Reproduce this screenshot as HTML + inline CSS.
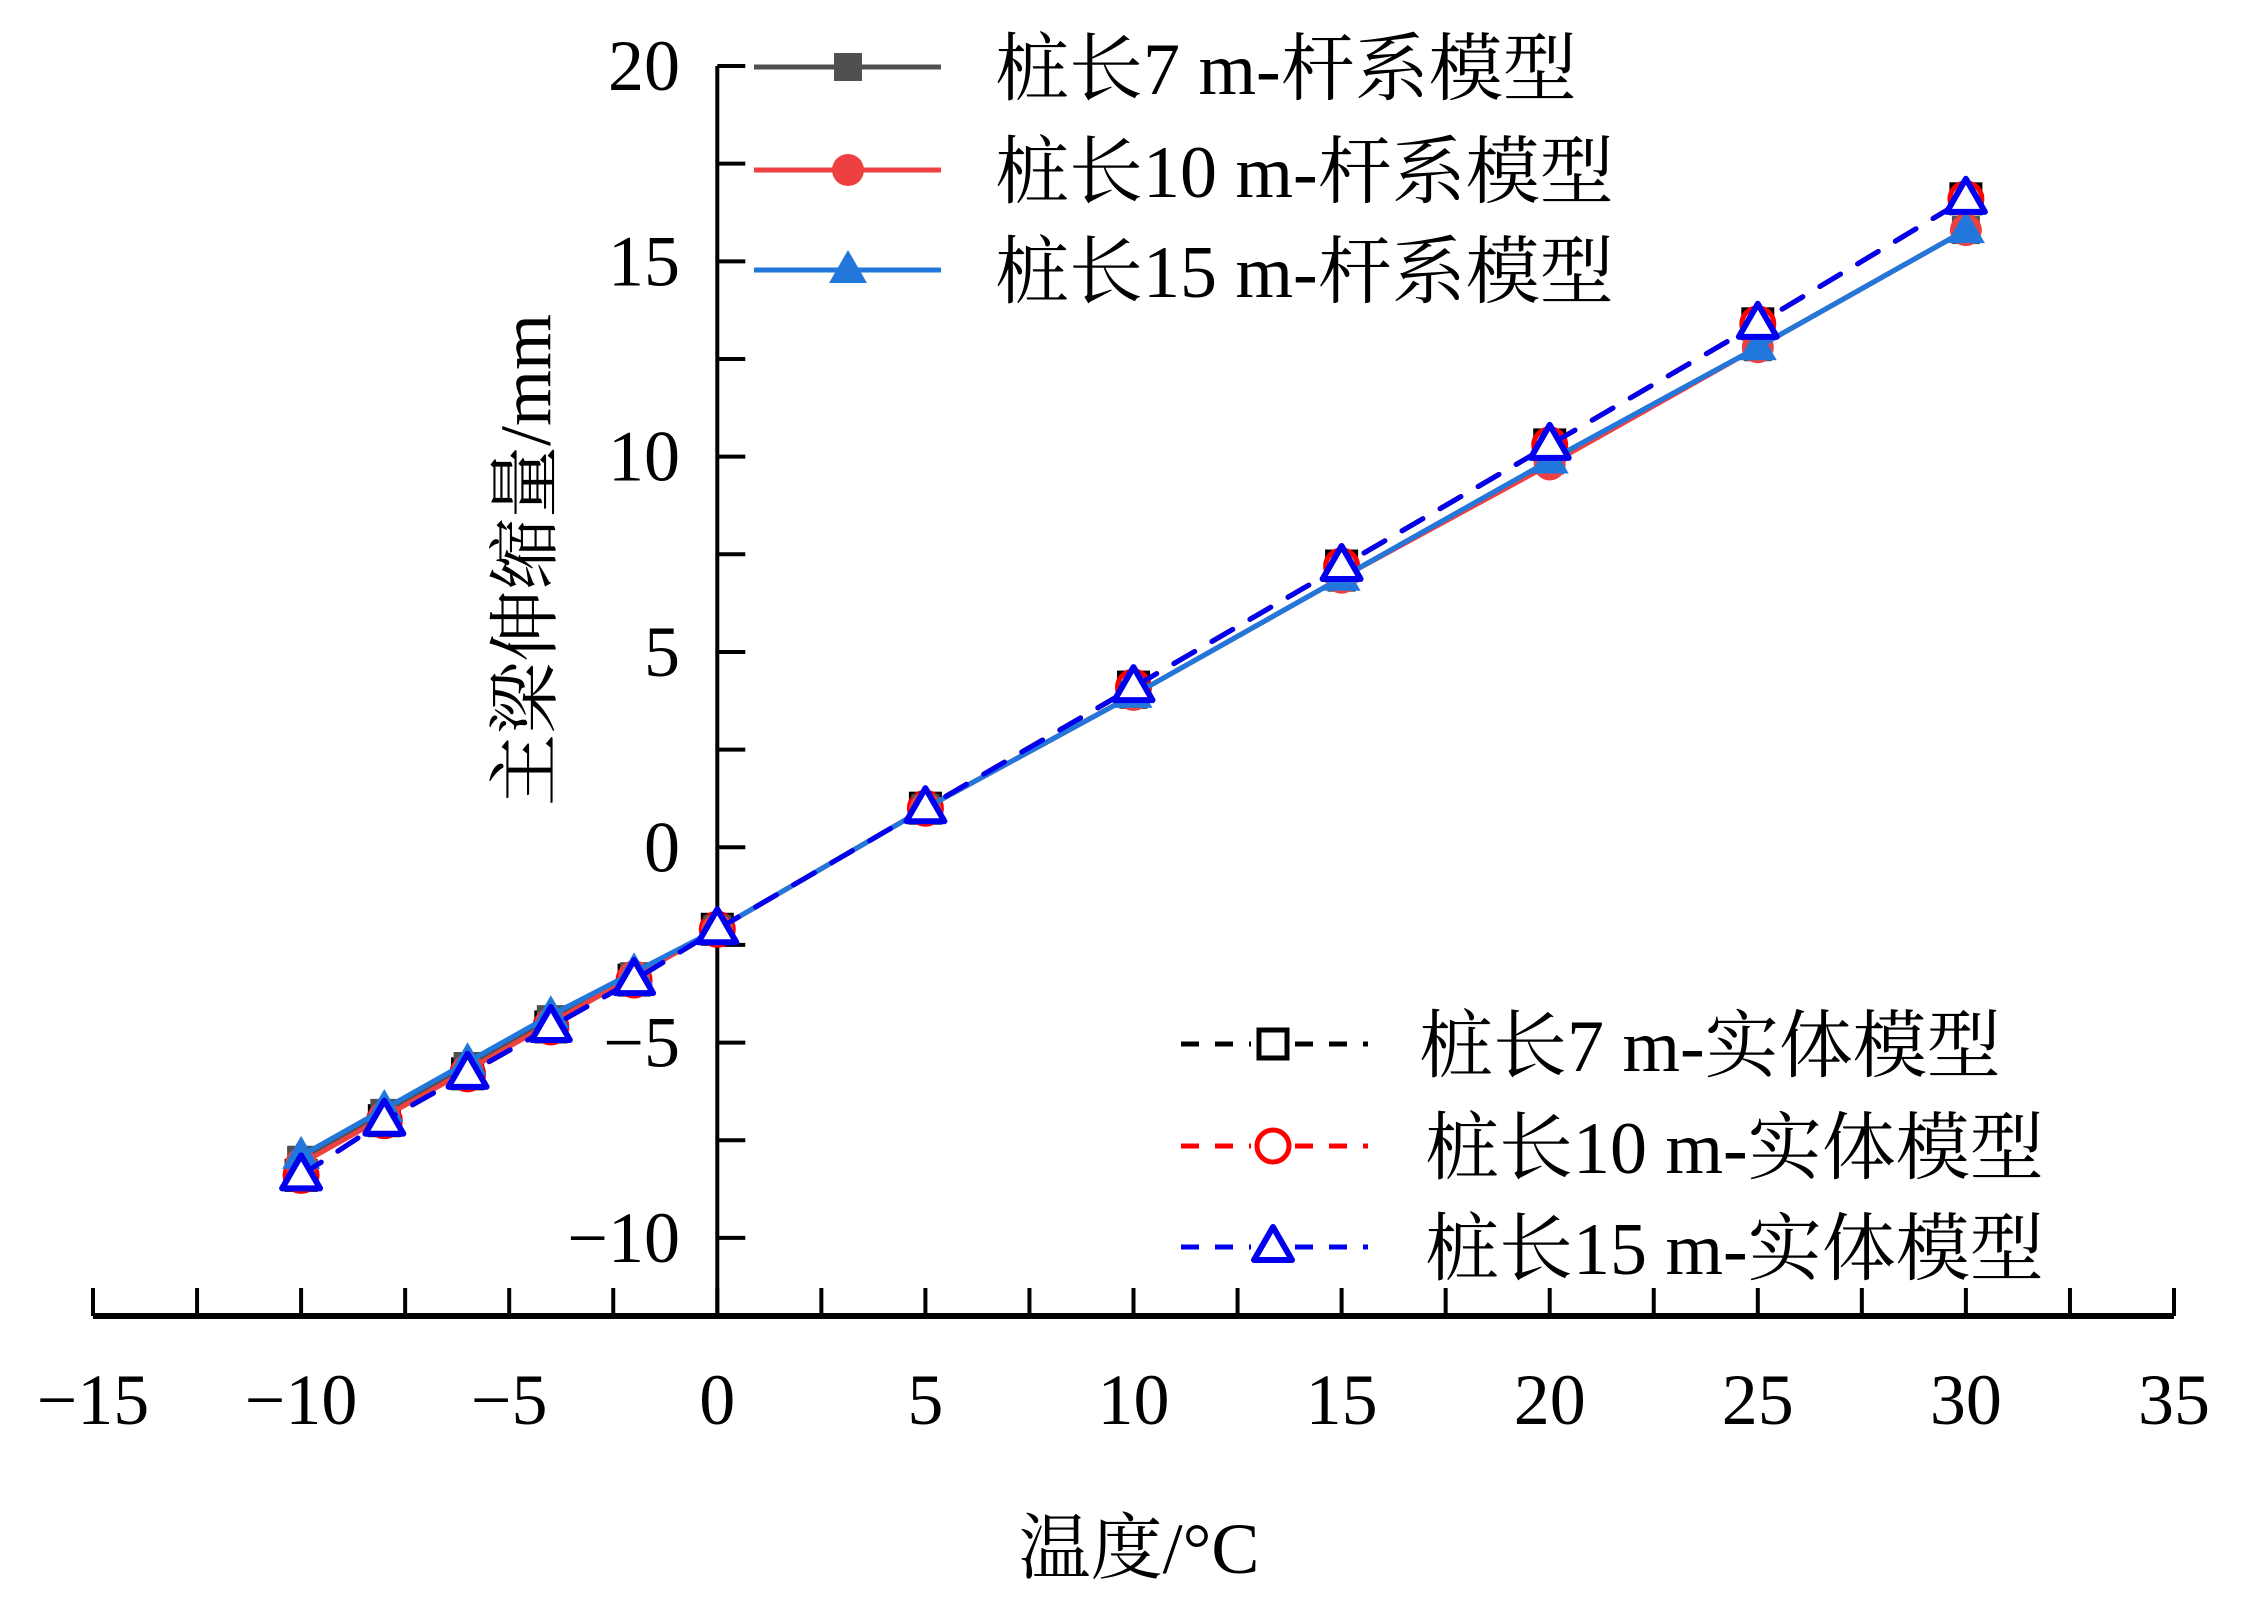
<!DOCTYPE html>
<html><head><meta charset="utf-8"><style>
html,body{margin:0;padding:0;background:#fff}
svg{display:block}
text{font-family:"Liberation Serif","Noto Serif CJK SC",serif;fill:#000}
</style></head><body>
<svg id="chart" width="2241" height="1623" viewBox="0 0 2241 1623" xmlns="http://www.w3.org/2000/svg">
<g id="axes"></g>
<g id="series"></g>
<g id="legend"></g>
<text x="0" y="0" font-size="72" text-anchor="middle" transform="translate(550,560) rotate(-90)">主梁伸缩量/mm</text>
<text x="1139" y="1573" font-size="72" text-anchor="middle">温度/°C</text>
</svg>
<script>
const temps = [-10,-8,-6,-4,-2,0,5,10,15,20,25,30];
const bar7 = [-8.0,-6.8,-5.6,-4.4,-3.3,-2.1,1.0,3.9,6.9,9.9,12.8,15.8];
const bar10 = [-8.1,-6.9,-5.7,-4.5,-3.3,-2.1,1.0,3.9,6.9,9.8,12.8,15.8];
const bar15 = [-7.9,-6.7,-5.5,-4.3,-3.2,-2.1,1.0,3.9,6.9,9.9,12.8,15.8];
const solid7 = [-8.4,-7.0,-5.8,-4.6,-3.4,-2.1,1.0,4.1,7.2,10.3,13.4,16.6];
const solid10 = [-8.4,-7.0,-5.8,-4.6,-3.4,-2.1,1.0,4.1,7.2,10.3,13.4,16.6];
const solid15 = [-8.4,-7.0,-5.8,-4.6,-3.4,-2.1,1.0,4.1,7.2,10.3,13.4,16.6];
const xTicks = [-15,-10,-5,0,5,10,15,20,25,30,35];
const yTicks = [-10,-5,0,5,10,15,20];

const NS='http://www.w3.org/2000/svg';
const X0=93,X1=2174,XMIN=-15,XMAX=35;
const YTOP=66,YMAX=20,YMIN=-12,YBOT=1316;
const xs=v=>X0+(v-XMIN)/(XMAX-XMIN)*(X1-X0);
const ys=v=>YTOP+(YMAX-v)/(YMAX-YMIN)*(YBOT-YTOP);
function mk(tag,attrs,parent){const e=document.createElementNS(NS,tag);for(const k in attrs)e.setAttribute(k,attrs[k]);parent.appendChild(e);return e;}
const axes=document.getElementById('axes');
let e;
e=mk('line',{x1:X0,y1:YBOT,x2:X1,y2:YBOT,stroke:'#000','stroke-width':6},axes);


e=mk('line',{x1:xs(0),y1:YTOP,x2:xs(0),y2:YBOT,stroke:'#000','stroke-width':4},axes);


for(let v=XMIN;v<=XMAX;v+=2.5){
  e=mk('line',{x1:xs(v),y1:YBOT,x2:xs(v),y2:YBOT-28,stroke:'#000','stroke-width':4},axes);
  
  
}
xTicks.forEach(v=>{
  e=mk('text',{x:xs(v),y:1424,'font-size':72,'text-anchor':'middle'},axes);
  e.textContent=v<0?'−'+Math.abs(v):String(v);
  
  
});
for(let v=-12.5;v<=YMAX;v+=2.5){
  if(v<YMIN)continue;
  e=mk('line',{x1:xs(0),y1:ys(v),x2:xs(0)+28,y2:ys(v),stroke:'#000','stroke-width':4},axes);
  
  
}
yTicks.forEach(v=>{
  e=mk('text',{x:680,y:ys(v)+24,'font-size':72,'text-anchor':'end'},axes);
  e.textContent=v<0?'−'+Math.abs(v):String(v);
  
  
});

const seriesG=document.getElementById('series');
function marker(g,type,cx,cy,color,filled){
  let m;
  const f=filled?color:'#fff', sw=filled?0:5;
  if(type==='sq') m=mk('rect',{x:cx-14,y:cy-14,width:28,height:28,fill:f,stroke:color,'stroke-width':sw},g);
  else if(type==='ci') m=mk('circle',{cx:cx,cy:cy,r:16,fill:f,stroke:color,'stroke-width':sw},g);
  else m=mk('polygon',{points:`${cx},${cy-20} ${cx+19},${cy+13} ${cx-19},${cy+13}`,fill:f,stroke:color,'stroke-width':filled?0:6,'stroke-linejoin':'round'},g);
  
  
}
const defs=[
 {name:'series-solid7',data:solid7,color:'#000',type:'sq',dash:true},
 {name:'series-solid10',data:solid10,color:'#ff0000',type:'ci',dash:true},
 {name:'series-bar7',data:bar7,color:'#505050',type:'sq',dash:false},
 {name:'series-bar10',data:bar10,color:'#ee4040',type:'ci',dash:false},
 {name:'series-bar15',data:bar15,color:'#2277dd',type:'tr',dash:false},
 {name:'series-solid15',data:solid15,color:'#0000ee',type:'tr',dash:true}
];
defs.forEach(s=>{
  const g=mk('g',{},seriesG);
  
  
  const pts=temps.map((t,i)=>xs(t)+','+ys(s.data[i])).join(' ');
  const pl=mk('polyline',{points:pts,fill:'none',stroke:s.color,'stroke-width':5,'stroke-dasharray':s.dash?'24 20':'none','stroke-linecap':'round'},g);
  
  
  temps.forEach((t,i)=>marker(g,s.type,xs(t),ys(s.data[i]),s.color,!s.dash));
});

const legend=document.getElementById('legend');
const legs=[
 {label:'桩长7 m-杆系模型',color:'#505050',type:'sq',dash:false,x1:754,x2:941,mx:848,y:67,tx:995},
 {label:'桩长10 m-杆系模型',color:'#ee4040',type:'ci',dash:false,x1:754,x2:941,mx:848,y:170,tx:995},
 {label:'桩长15 m-杆系模型',color:'#2277dd',type:'tr',dash:false,x1:754,x2:941,mx:848,y:270,tx:995},
 {label:'桩长7 m-实体模型',color:'#000',type:'sq',dash:true,x1:1181,x2:1368,mx:1273,y:1044,tx:1419},
 {label:'桩长10 m-实体模型',color:'#ff0000',type:'ci',dash:true,x1:1181,x2:1368,mx:1273,y:1146,tx:1425},
 {label:'桩长15 m-实体模型',color:'#0000ee',type:'tr',dash:true,x1:1181,x2:1368,mx:1273,y:1247,tx:1425}
];
legs.forEach(l=>{
  const g=mk('g',{},legend);
  
  
  if(l.dash){
    mk('line',{x1:l.x1,y1:l.y,x2:l.mx-22,y2:l.y,stroke:l.color,'stroke-width':5,'stroke-dasharray':'18 16'},g);
    mk('line',{x1:l.mx+22,y1:l.y,x2:l.x2,y2:l.y,stroke:l.color,'stroke-width':5,'stroke-dasharray':'18 16'},g);
  } else {
    mk('line',{x1:l.x1,y1:l.y,x2:l.x2,y2:l.y,stroke:l.color,'stroke-width':5},g);
  }
  marker(g,l.type,l.mx,l.y,l.color,!l.dash);
  const t=mk('text',{x:l.tx,y:l.y+27,'font-size':74},g);
  t.textContent=l.label;
  
  
});
</script>
</body></html>
